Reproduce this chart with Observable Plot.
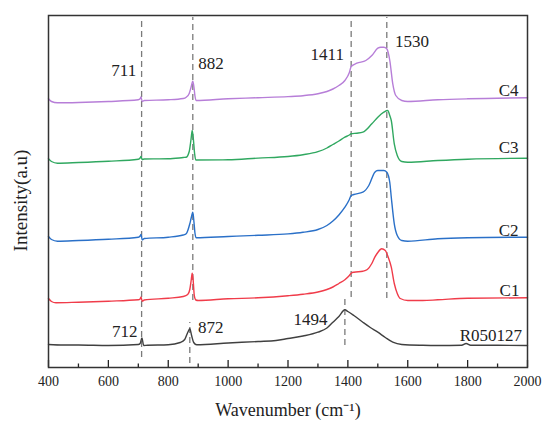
<!DOCTYPE html>
<html>
<head>
<meta charset="utf-8">
<script src="https://cdn.jsdelivr.net/npm/d3@7"></script>
<script src="https://cdn.jsdelivr.net/npm/@observablehq/plot@0.6"></script>
<style>
  html, body { margin: 0; padding: 0; background: #fff; }
  #chart { width: 550px; height: 424px; }
</style>
</head>
<body>
<div id="chart"></div>
<script>
// ---- data (intensity in arbitrary units) ----
const seriesNames = ["R050127", "C1", "C2", "C3", "C4"];
const seriesColors = ["#404040", "#f03c4a", "#2a70c8", "#30a860", "#b77ed8"];

const rX = [400,450,500,600,700,706,712,718,730,800,840,855,865,872,878,885,895,1000,1100,1160,1200,1250,1300,1330,1350,1370,1390,1400,1420,1450,1475,1500,1525,1550,1580,1650,1700,1780,1795,1810,1900,2000];
const rY = [23,22.5,22.5,22,23,24,29.5,22,22.2,22.7,25,28,35,38.7,32,25,22.7,24.5,26,27,29,31.5,35.3,39.5,45.3,51,57.7,56,52,45.3,40,35.3,30,25.3,23,22.2,22,22.3,24,22.3,22.2,22];

const c1X = [400,410,425,500,600,700,706,709,713,720,800,850,865,872,877,880,883,887,892,900,1000,1100,1200,1250,1300,1330,1350,1370,1390,1405,1412,1420,1450,1465,1480,1490,1500,1513,1525,1535,1545,1555,1565,1575,1600,1650,1700,1800,2000];
const c1Y = [69,66,64.7,65.3,66.3,67.7,68.5,70.5,66.3,67.5,69.3,71,73,78,88,94.3,88,72,67.5,67,68.7,69.7,71.8,73.3,75.5,78,80.5,84,87.7,92,94.5,95.3,96.3,98,104,110.3,115,118.7,117,110,100.3,84,74,69,67,67,67.7,69.3,69.7];

const c2X = [400,410,430,500,600,700,706,709,713,720,800,850,860,872,877,882,886,889,893,1000,1100,1200,1250,1300,1330,1350,1370,1390,1405,1411,1420,1450,1470,1490,1500,1510,1520,1530,1540,1545,1555,1565,1580,1600,1700,1800,2000];
const c2Y = [131,128,126.3,127,128.3,130.3,131.5,133,127.7,129,130.3,132.5,133.7,143.7,150,155.3,145,135,129.7,131,132.2,133.6,135.2,138,142,146.5,152.5,160.3,168,172,173,175.3,182,195.3,197,197,197,195.3,185,170.3,143.7,132,127,126.3,128.7,129.7,130.3];

const c3X = [400,410,430,500,600,700,706,709,713,720,800,850,860,870,876,880,884,888,892,1000,1100,1200,1250,1300,1330,1350,1370,1390,1405,1411,1430,1450,1480,1500,1520,1533,1540,1545,1555,1565,1580,1600,1700,1800,2000];
const c3Y = [208.7,206,204.3,205,206.3,208.3,209.5,211,208,208.5,208.7,210,210.3,216,228,237,228,214,207.5,207.7,209.4,211,212.8,215.8,219.5,223,226.5,230.3,232.5,233.7,234.3,235.3,243.7,250.3,255.3,257,252,247,223.7,212,206,205.3,207,208.3,209.3];

const c4X = [400,410,430,500,600,700,706,709,713,720,800,850,860,870,876,882,886,889,893,1000,1100,1200,1250,1300,1330,1350,1370,1390,1405,1411,1430,1460,1480,1500,1510,1520,1530,1540,1550,1560,1580,1600,1700,1800,2000];
const c4Y = [268.7,266,264.7,265,266,267.7,268.7,270.5,266,267,267.7,269,270.3,274,280,286.3,280,272,267,268.7,269.8,270.9,271.8,273.7,276,278.5,282,287,295,301,304.3,307,312,319.3,320.3,320.3,318.7,307,283.7,272,267,266,267.7,268.7,269.7];

// dashed peak markers
const markX  = [711, 882, 1411, 1530, 872, 1390];
const markY1 = [10, 67, 70, 69, 4, 22];
const markY2 = [350, 350, 350, 350, 45, 70];

// peak annotations
const annText   = ["711", "882", "1411", "1530", "712", "872", "1494"];
const annX      = [693, 900, 1387, 1557, 697, 899, 1332];
const annY      = [292, 298.7, 307.7, 320.3, 31, 34.3, 43];
const annAnchor = ["end", "start", "end", "start", "end", "start", "end"];

// series labels
const labX = [1982, 1973, 1970, 1970, 1970];
const labY = [26.3, 71.3, 132, 214.3, 272];

const majorTicks = [400, 600, 800, 1000, 1200, 1400, 1600, 1800, 2000];
const minorTicks = [500, 700, 900, 1100, 1300, 1500, 1700, 1900];

// ---- build tables ----
const allX = [rX, c1X, c2X, c3X, c4X];
const allY = [rY, c1Y, c2Y, c3Y, c4Y];
const spectra = [];
seriesNames.forEach((name, i) => {
  allX[i].forEach((x, j) => spectra.push({series: name, x, y: allY[i][j]}));
});
const marks = markX.map((x, i) => ({x, y1: markY1[i], y2: markY2[i]}));
const anns = annText.map((t, i) => ({t, x: annX[i], y: annY[i], a: annAnchor[i]}));
const labs = seriesNames.map((s, i) => ({s, x: labX[i], y: labY[i]}));

const font = "'Liberation Serif', 'Times New Roman', serif";

const chart = Plot.plot({
  width: 550,
  height: 424,
  marginLeft: 48,
  marginRight: 23,
  marginTop: 15,
  marginBottom: 57,
  style: {fontFamily: font, background: "#fff", color: "#222"},
  x: {domain: [400, 2000], axis: null},
  y: {domain: [0, 352], axis: null},
  color: {domain: seriesNames, range: seriesColors},
  marks: [
    Plot.ruleX(marks, {x: "x", y1: "y1", y2: "y2", stroke: "#7a7a7a", strokeWidth: 1.3, strokeDasharray: "6,4"}),
    Plot.line(spectra, {x: "x", y: "y", z: "series", stroke: "series", strokeWidth: 1.4, curve: "monotone-x"}),
    Plot.text(anns.filter(d => d.a === "end"), {x: "x", y: "y", text: "t", textAnchor: "end", lineAnchor: "bottom", fontSize: 17, fill: "#222"}),
    Plot.text(anns.filter(d => d.a === "start"), {x: "x", y: "y", text: "t", textAnchor: "start", lineAnchor: "bottom", fontSize: 17, fill: "#222"}),
    Plot.text(labs, {x: "x", y: "y", text: "s", textAnchor: "end", lineAnchor: "bottom", fontSize: 17, fill: "#222"}),
    Plot.axisX(majorTicks, {anchor: "bottom", tickSize: -7, tickPadding: 15.5, fontSize: 14, stroke: "#222", strokeWidth: 1.3, fill: "#222", label: null, tickFormat: d => String(d)}),
    Plot.axisX(minorTicks, {anchor: "bottom", tickSize: -3.5, text: null, stroke: "#222", strokeWidth: 1.3, label: null}),
    Plot.frame({stroke: "#333", strokeWidth: 1.5}),
    Plot.text(["Wavenumber (cm⁻¹)"], {frameAnchor: "bottom", dy: 48.7, lineAnchor: "bottom", fontSize: 18, fill: "#222"}),
    Plot.text(["Intensity(a.u)"], {frameAnchor: "left", dx: -28, dy: 9, rotate: -90, textAnchor: "middle", lineAnchor: "middle", fontSize: 19, fill: "#222"})
  ]
});
document.getElementById("chart").appendChild(chart);
</script>
</body>
</html>
